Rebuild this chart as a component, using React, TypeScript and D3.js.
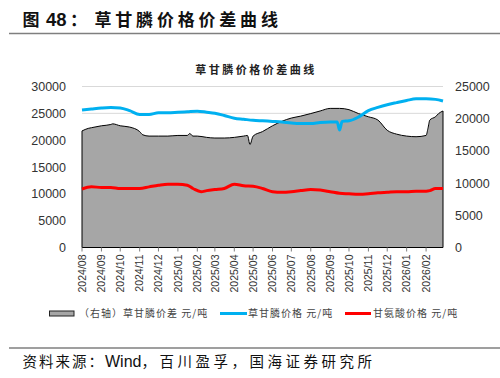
import React from 'react';
import * as d3 from 'd3';

const monthTicks = ['2024/08','2024/09','2024/10','2024/11','2024/12','2025/01','2025/02','2025/03','2025/04','2025/05','2025/06','2025/07','2025/08','2025/09','2025/10','2025/11','2025/12','2026/01','2026/02'];
const leftTicks = [0, 5000, 10000, 15000, 20000, 25000, 30000];
const rightTicks = [0, 5000, 10000, 15000, 20000, 25000];

const spreadDates = ['2024-08-01','2024-08-11','2024-08-16','2024-09-01','2024-09-16','2024-09-19','2024-10-01','2024-10-16','2024-11-01','2024-11-06','2024-11-16','2024-12-01','2024-12-16','2025-01-01','2025-01-16','2025-01-20','2025-01-25','2025-02-01','2025-02-16','2025-03-01','2025-03-16','2025-04-01','2025-04-16','2025-04-22','2025-04-26','2025-05-01','2025-05-16','2025-06-01','2025-06-16','2025-07-01','2025-07-16','2025-08-01','2025-08-16','2025-09-01','2025-09-16','2025-10-01','2025-10-16','2025-11-01','2025-11-16','2025-12-01','2025-12-16','2026-01-01','2026-01-16','2026-02-01','2026-02-04','2026-02-07','2026-02-16','2026-02-21','2026-02-28'];
const spreadValues = [18100,18500,18600,18900,19100,19200,18900,18700,18000,17500,17300,17300,17300,17400,17400,17700,17300,17300,17100,17000,17000,17100,17300,17400,16000,17300,18000,18900,19600,20100,20400,20800,21200,21600,21600,21400,20800,20300,19800,18200,17600,17300,17200,17400,18500,19800,20300,20800,21200];

const glyphosateDates = ['2024-08-01','2024-08-16','2024-09-01','2024-09-16','2024-10-01','2024-10-16','2024-11-01','2024-11-16','2024-12-01','2024-12-16','2025-01-01','2025-01-16','2025-02-01','2025-02-16','2025-03-01','2025-03-16','2025-04-01','2025-04-16','2025-05-01','2025-05-16','2025-06-01','2025-06-16','2025-07-01','2025-07-16','2025-08-01','2025-08-16','2025-09-01','2025-09-12','2025-09-16','2025-09-20','2025-10-01','2025-10-16','2025-11-01','2025-11-16','2025-12-01','2025-12-16','2026-01-01','2026-01-16','2026-02-01','2026-02-16','2026-02-28'];
const glyphosateValues = [25600,25800,26000,26100,26000,25500,24800,24800,25100,25100,25200,25300,25400,25200,25000,24600,24100,23900,23700,23600,23500,23400,23200,23100,23100,23300,23400,23400,21900,23500,23600,24300,25500,26100,26600,27000,27400,27700,27700,27600,27300];

const glycineDates = ['2024-08-01','2024-08-16','2024-09-01','2024-09-16','2024-10-01','2024-10-16','2024-11-01','2024-11-16','2024-12-01','2024-12-16','2025-01-01','2025-01-16','2025-01-25','2025-02-07','2025-02-16','2025-03-01','2025-03-16','2025-04-01','2025-04-16','2025-05-01','2025-05-16','2025-06-01','2025-06-16','2025-07-01','2025-07-16','2025-08-01','2025-08-16','2025-09-01','2025-09-16','2025-10-01','2025-10-16','2025-11-01','2025-11-16','2025-12-01','2025-12-16','2026-01-01','2026-01-16','2026-02-01','2026-02-07','2026-02-16','2026-02-28'];
const glycineValues = [10900,11300,11200,11200,11000,11000,11000,11300,11600,11800,11800,11600,11000,10400,10600,10800,11000,11800,11500,11400,11000,10400,10300,10400,10600,10800,10700,10400,10100,10000,9900,10000,10200,10300,10400,10400,10500,10500,10600,11000,11000];

const parse = d3.timeParse('%Y-%m-%d');
const parseMonth = d3.timeParse('%Y/%m');

type Pt = { date: Date; v: number };
const toPts = (ds: string[], vs: number[]): Pt[] => ds.map((d, i) => ({ date: parse(d) as Date, v: vs[i] }));

const CJK = '"Noto Sans CJK SC", "Noto Sans", sans-serif';
const LAT = '"Liberation Sans", Arial, sans-serif';

export default function App() {
  const left = 82, right = 443, top = 86.5, bottom = 247.5;
  const x = d3.scaleTime().domain([parse('2024-08-01') as Date, parse('2026-02-28') as Date]).range([left, right]);
  const yL = d3.scaleLinear().domain([0, 30000]).range([bottom, top]);
  const yR = d3.scaleLinear().domain([0, 25000]).range([bottom, top]);

  const spread = toPts(spreadDates, spreadValues);
  const gly = toPts(glyphosateDates, glyphosateValues);
  const glc = toPts(glycineDates, glycineValues);

  const area = d3.area<Pt>().x(d => x(d.date)).y0(yR(0)).y1(d => yR(d.v)).curve(d3.curveMonotoneX);
  const lineL = d3.line<Pt>().x(d => x(d.date)).y(d => yL(d.v)).curve(d3.curveMonotoneX);

  return (
    <svg width={500} height={378} style={{ position: 'absolute', left: 0, top: 0, background: '#fff' }}>
      <rect width={500} height={378} fill="#fff" />
      <g fontWeight={700} fill="#111">
        <text x={22.5} y={25.5} fontFamily={CJK} fontSize={17}>图</text>
        <text x={46} y={25.5} fontFamily={LAT} fontSize={18.5}>48</text>
        <text x={70} y={25.5} fontFamily={CJK} fontSize={17}>：</text>
        <text x={94.5} y={25.5} fontFamily={CJK} fontSize={17} letterSpacing={3.8}>草甘膦价格价差曲线</text>
      </g>
      <line x1={9} x2={500} y1={33.5} y2={33.5} stroke="#7f7f7f" strokeWidth={1.5} />

      <text x={256} y={74} textAnchor="middle" fontFamily={CJK} fontWeight={700} fontSize={11} letterSpacing={2.5} fill="#222">草甘膦价格价差曲线</text>

      {leftTicks.map(t => (
        <line key={'g' + t} x1={left} x2={right} y1={yL(t)} y2={yL(t)} stroke="#d9d9d9" strokeWidth={1} />
      ))}

      <path d={area(spread) as string} fill="#a6a6a6" stroke="#000" strokeWidth={1} />
      <path d={lineL(gly) as string} fill="none" stroke="#00b0f0" strokeWidth={3} />
      <path d={lineL(glc) as string} fill="none" stroke="#ff0000" strokeWidth={3} />

      <line x1={left} x2={right} y1={bottom} y2={bottom} stroke="#000" strokeWidth={1} />
      {monthTicks.map(m => {
        const xx = x(parseMonth(m) as Date);
        return (
          <g key={m}>
            <line x1={xx} x2={xx} y1={bottom} y2={bottom + 4} stroke="#7f7f7f" strokeWidth={1} />
            <text transform={`translate(${xx + 3.8},${bottom + 7}) rotate(-90)`} textAnchor="end" fontFamily={LAT} fontSize={10.5} fill="#333">{m}</text>
          </g>
        );
      })}

      {leftTicks.map(t => (
        <text key={'l' + t} x={66} y={yL(t) + 4.5} textAnchor="end" fontFamily={LAT} fontSize={12.5} fill="#333">{t}</text>
      ))}
      {rightTicks.map(t => (
        <text key={'r' + t} x={455} y={yR(t) + 4.5} textAnchor="start" fontFamily={LAT} fontSize={12.5} fill="#333">{t}</text>
      ))}

      <rect x={49.5} y={311} width={24.5} height={5} fill="#a6a6a6" stroke="#222" strokeWidth={1} />
      <text x={79} y={317} fontFamily={CJK} fontSize={10} letterSpacing={1} fill="#444">（右轴）草甘膦价差 元/吨</text>
      <line x1={220} x2={247} y1={313.5} y2={313.5} stroke="#00b0f0" strokeWidth={3} />
      <text x={248} y={317} fontFamily={CJK} fontSize={10} letterSpacing={1} fill="#444">草甘膦价格 元/吨</text>
      <line x1={345} x2={371} y1={313.5} y2={313.5} stroke="#ff0000" strokeWidth={3} />
      <text x={373} y={317} fontFamily={CJK} fontSize={10} letterSpacing={1} fill="#444">甘氨酸价格 元/吨</text>

      <line x1={9} x2={500} y1={348} y2={348} stroke="#7f7f7f" strokeWidth={1.5} />
      <text x={22.5} y={367} fill="#111" fontFamily={CJK} fontSize={14.5}>
        <tspan letterSpacing={2}>资料来源：</tspan>
        <tspan fontFamily={LAT} fontSize={16} letterSpacing={0}>Wind</tspan>
        <tspan letterSpacing={3.5}>，百川盈孚，国海证券研究所</tspan>
      </text>
    </svg>
  );
}
